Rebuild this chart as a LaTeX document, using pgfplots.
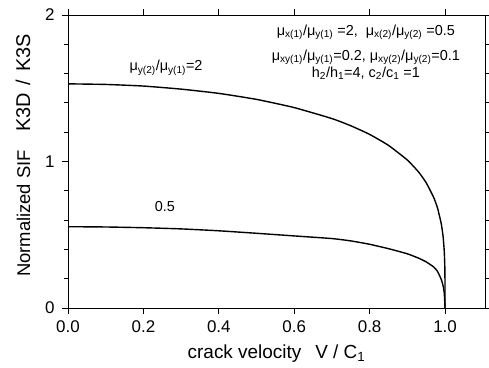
\documentclass[border=0pt]{standalone}
\usepackage{fontspec}
\setmainfont{Liberation Sans}
\usepackage{pgfplots}
\pgfplotsset{compat=1.18}
\begin{document}
\begin{tikzpicture}
\begin{axis}[
  name=ax,
  scale only axis,
  width=417bp, height=293bp,
  xmin=0, xmax=1.106, ymin=0, ymax=2,
  xtick={0,0.2,0.4,0.6,0.8,1.0},
  xticklabels={0.0,0.2,0.4,0.6,0.8,1.0},
  ytick={0,1,2},
  minor ytick={0.2,0.4,0.6,0.8,1.2,1.4,1.6,1.8},
  tick align=outside,
  major tick length=6bp,
  minor tick length=4bp,
  tick style={black, line width=0.8bp},
  axis line style={line width=0.8bp},
  /pgf/number format/assume math mode=true,
  tick label style={font=\fontsize{17}{19}\selectfont},
  xticklabel style={yshift=-3bp},
  yticklabel style={xshift=-4bp},
  xlabel={\fontsize{19}{21}\selectfont crack velocity\hspace{14bp}V / C\textsubscript{1}},
  ylabel={\fontsize{18.5}{21}\selectfont Normalized SIF\hspace{18bp}{\fontsize{20}{22}\selectfont K3D\hspace{8bp}/\hspace{8bp}K3S}},
  xlabel style={yshift=-5bp},
  ylabel style={yshift=8bp, xshift=6bp},
  clip=false,
]
\addplot[black, line width=1.4bp, smooth, tension=0.3] coordinates {
(0,1.530) (0.1,1.526) (0.2,1.515) (0.3,1.494) (0.4,1.465) (0.5,1.424)
(0.6,1.368) (0.7,1.293) (0.75,1.244) (0.8,1.185) (0.85,1.110) (0.9,1.010)
(0.93,0.928) (0.95,0.855) (0.97,0.754) (0.98,0.683) (0.99,0.575)
(0.995,0.484) (0.998,0.385) (0.9995,0.272) (1.0,0.12) (1.0,0)
};
\addplot[black, line width=1.4bp, smooth, tension=0.3] coordinates {
(0,0.555) (0.1,0.553) (0.2,0.548) (0.3,0.540) (0.4,0.527) (0.5,0.510)
(0.6,0.492) (0.7,0.474) (0.75,0.458) (0.8,0.435) (0.85,0.405) (0.9,0.370)
(0.93,0.340) (0.95,0.315) (0.97,0.280) (0.98,0.250) (0.99,0.195)
(0.995,0.150) (0.998,0.100) (1.0,0)
};
\node[font=\fontsize{14.5}{16}\selectfont] at (axis cs:0.26,1.64)
  {μ\textsubscript{y(2)}/μ\textsubscript{y(1)}=2};
\node[font=\fontsize{14.5}{16}\selectfont] at (axis cs:0.257,0.69) {0.5};
\node[font=\fontsize{14.5}{16}\selectfont] at (axis cs:0.79,1.88)
  {μ\textsubscript{x(1)}/μ\textsubscript{y(1)} =2,\ \ μ\textsubscript{x(2)}/μ\textsubscript{y(2)} =0.5};
\node[font=\fontsize{14.5}{16}\selectfont] at (axis cs:0.79,1.71)
  {μ\textsubscript{xy(1)}/μ\textsubscript{y(1)}=0.2, μ\textsubscript{xy(2)}/μ\textsubscript{y(2)}=0.1};
\node[font=\fontsize{14.5}{16}\selectfont] at (axis cs:0.79,1.60)
  {h\textsubscript{2}/h\textsubscript{1}=4, c\textsubscript{2}/c\textsubscript{1} =1};
\end{axis}
\pgfresetboundingbox
\path ([xshift=-68bp,yshift=-60bp]ax.south west) rectangle ([xshift=4bp,yshift=15bp]ax.north east);
\end{tikzpicture}
\end{document}
